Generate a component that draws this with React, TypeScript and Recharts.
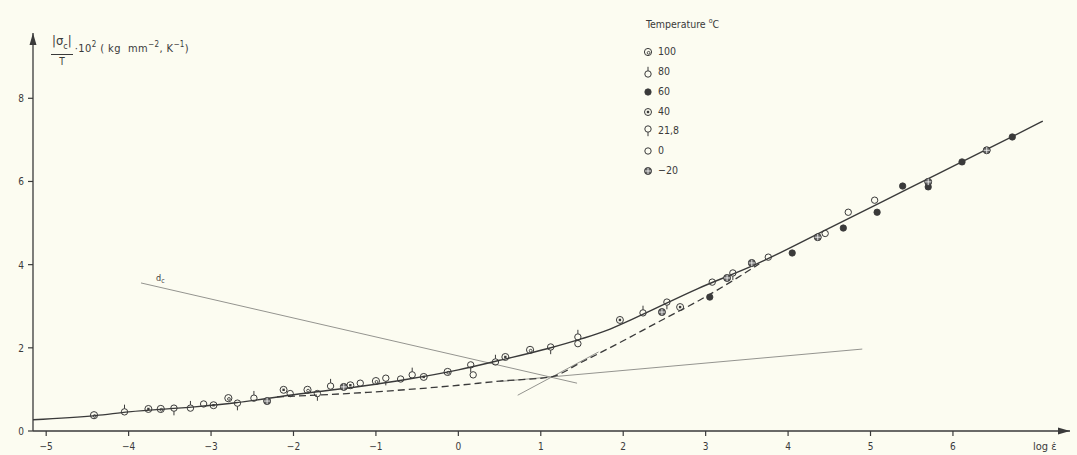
import React from 'react';
import { ComposedChart, Line, Scatter, XAxis, YAxis, ReferenceDot } from 'recharts';

// axis range (log strain rate vs. reduced stress)
const X_MIN = -5.16;
const X_MAX = 7.42;
const Y_MAX = 9.57;
const X_TICKS = [-5, -4, -3, -2, -1, 0, 1, 2, 3, 4, 5, 6];
const Y_TICKS = [0, 2, 4, 6, 8];

// fitted master curve (solid)
const mainX = [-5.16, -4.4, -4.0, -3.2, -2.7, -2.0, -1.2, -0.6, 0, 0.5, 1.1, 1.5, 1.8, 2.1, 2.9, 3.6, 4.5, 5.5, 6.5, 7.09];
const mainY = [0.27, 0.37, 0.46, 0.58, 0.68, 0.87, 1.07, 1.25, 1.47, 1.7, 1.99, 2.22, 2.42, 2.68, 3.42, 4.0, 4.88, 5.87, 6.86, 7.45];

// dashed curve
const dashX = [-2.2, -1.1, 0, 0.5, 1.12, 1.5, 2.0, 2.5, 2.93, 3.3, 3.65];
const dashY = [0.82, 0.93, 1.1, 1.2, 1.3, 1.66, 2.17, 2.7, 3.15, 3.58, 4.02];

// thin construction lines
const dcX = [-3.85, 1.44];
const dcY = [3.56, 1.15];
const shallowX = [0.5, 4.9];
const shallowY = [1.19, 1.97];
const steepX = [0.72, 1.7];
const steepY = [0.86, 1.9];

// measured points, one list per temperature
const t100X = [-4.42, -3.61, -2.79, -1.83, -1.0, -0.13, 0.87];
const t100Y = [0.38, 0.53, 0.79, 0.99, 1.2, 1.42, 1.95];
const t80X = [-4.05, -3.25, -2.48, -1.55, -0.56, 0.45, 1.45, 2.24];
const t80Y = [0.46, 0.55, 0.79, 1.08, 1.35, 1.66, 2.26, 2.84];
const t60X = [3.05, 4.05, 4.67, 5.08, 5.39, 5.7, 6.11, 6.72];
const t60Y = [3.22, 4.28, 4.88, 5.26, 5.89, 5.87, 6.47, 7.07];
const t40X = [-3.76, -2.97, -2.12, -1.31, -0.42, 0.57, 1.96, 2.69];
const t40Y = [0.53, 0.62, 0.99, 1.1, 1.3, 1.78, 2.67, 2.98];
const t21X = [-3.45, -2.68, -1.71, -0.88, 0.15, 1.12, 2.53, 3.33];
const t21Y = [0.55, 0.67, 0.9, 1.27, 1.59, 2.02, 3.1, 3.8];
const t0X = [-3.09, -2.04, -1.19, -0.7, 0.18, 1.45, 3.08, 3.76, 4.45, 4.73, 5.05];
const t0Y = [0.65, 0.9, 1.15, 1.25, 1.35, 2.1, 3.58, 4.18, 4.75, 5.26, 5.55];
const tm20X = [-2.32, -1.39, 2.47, 3.26, 3.56, 4.36, 5.7, 6.41];
const tm20Y = [0.72, 1.06, 2.86, 3.68, 4.04, 4.66, 5.99, 6.75];

const LEGEND_KINDS = ['100', '80', '60', '40', '21,8', '0', '-20'];
const LEGEND_LABELS = ['100', '80', '60', '40', '21,8', '0', '\u221220'];

const FONT = "'DejaVu Sans Condensed', 'DejaVu Sans', sans-serif";
const INK = '#3a3a3a';
const THIN = '#94948f';

const toPts = (xs: number[], ys: number[]) => xs.map((x, i) => ({ x, y: ys[i] }));

const fmt = (v: number) => (v < 0 ? '\u2212' + Math.abs(v) : String(v));

const Marker = ({ kind, cx, cy }: { kind: string; cx: number; cy: number }) => {
  const r = 3.2;
  switch (kind) {
    case '100':
      return (
        <g>
          <circle cx={cx} cy={cy} r={r + 0.4} fill="none" stroke={INK} strokeWidth={1} />
          <circle cx={cx + 0.6} cy={cy + 0.8} r={1.4} fill="none" stroke={INK} strokeWidth={0.9} />
        </g>
      );
    case '80':
      return (
        <g>
          <circle cx={cx} cy={cy} r={r} fill="none" stroke={INK} strokeWidth={1} />
          <line x1={cx} y1={cy - r} x2={cx} y2={cy - r - 4} stroke={INK} strokeWidth={1} />
        </g>
      );
    case '60':
      return <circle cx={cx} cy={cy} r={r} fill={INK} stroke={INK} strokeWidth={0.8} />;
    case '40':
      return (
        <g>
          <circle cx={cx} cy={cy} r={r + 0.3} fill="none" stroke={INK} strokeWidth={1} />
          <rect x={cx - 1.2} y={cy - 1.2} width={2.4} height={2.4} fill={INK} />
        </g>
      );
    case '21,8':
      return (
        <g>
          <circle cx={cx} cy={cy} r={r} fill="none" stroke={INK} strokeWidth={1} />
          <line x1={cx} y1={cy + r} x2={cx} y2={cy + r + 4} stroke={INK} strokeWidth={1} />
        </g>
      );
    case '0':
      return <circle cx={cx} cy={cy} r={r} fill="none" stroke={INK} strokeWidth={1} />;
    default:
      return (
        <g>
          <circle cx={cx} cy={cy} r={r + 0.3} fill="#666" stroke={INK} strokeWidth={1} />
          <line x1={cx - r} y1={cy} x2={cx + r} y2={cy} stroke="#fff" strokeWidth={0.8} />
          <line x1={cx} y1={cy - r} x2={cx} y2={cy + r} stroke="#fff" strokeWidth={0.8} />
        </g>
      );
  }
};

const XTick = ({ x, y, payload }: any) => (
  <g>
    <text x={x} y={y + 14} textAnchor="middle" fontFamily={FONT} fontSize={10} fill={INK}>
      {fmt(payload.value)}
    </text>
  </g>
);

const YTick = ({ x, y, payload }: any) => (
  <text x={x - 4} y={y + 4} textAnchor="end" fontFamily={FONT} fontSize={10} fill={INK}>
    {fmt(payload.value)}
  </text>
);

const TempLegend = () => (
  <div style={{ position: 'absolute', left: 640, top: 12, fontFamily: FONT, fontSize: 10.5, color: INK, lineHeight: '19.8px' }}>
    <div style={{ marginBottom: 8, marginLeft: 6 }}>
      Temperature <sup style={{ fontSize: 7 }}>o</sup>C
    </div>
    {LEGEND_KINDS.map((k, i) => (
      <div key={k} style={{ display: 'flex', alignItems: 'center', height: 19.8 }}>
        <svg width={14} height={18} style={{ marginRight: 4 }}>
          <Marker kind={k} cx={8} cy={k === '80' ? 11 : k === '21,8' ? 7 : 9} />
        </svg>
        <span>{LEGEND_LABELS[i]}</span>
      </div>
    ))}
  </div>
);

const UpArrow = ({ cx, cy }: any) => (
  <path d={`M${cx},${cy} L${cx - 3.5},${cy + 12} L${cx + 3.5},${cy + 12} Z`} fill={INK} />
);
const RightArrow = ({ cx, cy }: any) => (
  <path d={`M${cx},${cy} L${cx - 12},${cy - 3.5} L${cx - 12},${cy + 3.5} Z`} fill={INK} />
);

const DcLabel = ({ x, y, index }: any) =>
  index === 0 ? (
    <text x={x + 15} y={y - 2} fontFamily={FONT} fontSize={9} fill={INK}>
      d<tspan fontSize={7} dy={2}>c</tspan>
    </text>
  ) : null;

const series = [
  { kind: '100', xs: t100X, ys: t100Y },
  { kind: '80', xs: t80X, ys: t80Y },
  { kind: '60', xs: t60X, ys: t60Y },
  { kind: '40', xs: t40X, ys: t40Y },
  { kind: '21,8', xs: t21X, ys: t21Y },
  { kind: '0', xs: t0X, ys: t0Y },
  { kind: '-20', xs: tm20X, ys: tm20Y },
];

const App = () => {
  return (
    <div style={{ position: 'fixed', left: 0, top: 0, width: 1077, height: 455, background: '#fcfcf1', overflow: 'hidden' }}>
      <ComposedChart width={1077} height={455} margin={{ top: 33, right: 7, left: 0, bottom: 0 }}>
        <XAxis
          type="number"
          dataKey="x"
          domain={[X_MIN, X_MAX]}
          ticks={X_TICKS}
          tick={<XTick />}
          tickSize={5}
          tickMargin={0}
          height={24}
          allowDataOverflow
          axisLine={{ stroke: INK, strokeWidth: 1.3 }}
          tickLine={{ stroke: INK, strokeWidth: 1.2 }}
        />
        <YAxis
          type="number"
          domain={[0, Y_MAX]}
          ticks={Y_TICKS}
          tick={<YTick />}
          tickSize={5}
          tickMargin={0}
          width={33}
          allowDataOverflow
          axisLine={{ stroke: INK, strokeWidth: 1.3 }}
          tickLine={{ stroke: INK, strokeWidth: 1.2 }}
        />
        <Line data={toPts(dcX, dcY)} dataKey="y" type="linear" stroke={THIN} strokeWidth={1} dot={false} label={<DcLabel />} isAnimationActive={false} />
        <Line data={toPts(shallowX, shallowY)} dataKey="y" type="linear" stroke={THIN} strokeWidth={1} dot={false} isAnimationActive={false} />
        <Line data={toPts(steepX, steepY)} dataKey="y" type="linear" stroke={THIN} strokeWidth={1} dot={false} isAnimationActive={false} />
        <Line data={toPts(dashX, dashY)} dataKey="y" type="monotone" stroke={INK} strokeWidth={1.3} strokeDasharray="7 4" dot={false} isAnimationActive={false} />
        <Line data={toPts(mainX, mainY)} dataKey="y" type="monotone" stroke={INK} strokeWidth={1.4} dot={false} isAnimationActive={false} />
        {series.map((s) => (
          <Scatter
            key={s.kind}
            data={toPts(s.xs, s.ys)}
            dataKey="y"
            isAnimationActive={false}
            shape={(p: any) => <Marker kind={s.kind} cx={p.cx} cy={p.cy} />}
          />
        ))}
        <ReferenceDot x={X_MIN} y={Y_MAX} ifOverflow="visible" shape={<UpArrow />} />
        <ReferenceDot x={X_MAX} y={0} ifOverflow="visible" shape={<RightArrow />} />
      </ComposedChart>
      <TempLegend />
      <div style={{ position: 'absolute', left: 51, top: 33, fontFamily: FONT, fontSize: 11, color: INK, display: 'flex', alignItems: 'center' }}>
        <div style={{ display: 'inline-flex', flexDirection: 'column', alignItems: 'center', color: INK }}>
          <span style={{ borderBottom: `1.3px solid ${INK}`, padding: '0 1px', lineHeight: '15px', fontSize: 13, color: INK }}>
            |σ<sub style={{ fontSize: 9 }}>c</sub>|
          </span>
          <span style={{ lineHeight: '13px', fontSize: 10, color: INK }}>T</span>
        </div>
        <span style={{ marginLeft: 2, marginTop: -6, letterSpacing: 0.4 }}>
          ·10<sup style={{ fontSize: 8 }}>2</sup> ( kg&nbsp; mm<sup style={{ fontSize: 8 }}>−2</sup>, K<sup style={{ fontSize: 8 }}>−1</sup>)
        </span>
      </div>
      <div style={{ position: 'absolute', left: 1033, top: 440, fontFamily: FONT, fontSize: 11, color: INK }}>
        log ε̇
      </div>
    </div>
  );
};

export default App;
